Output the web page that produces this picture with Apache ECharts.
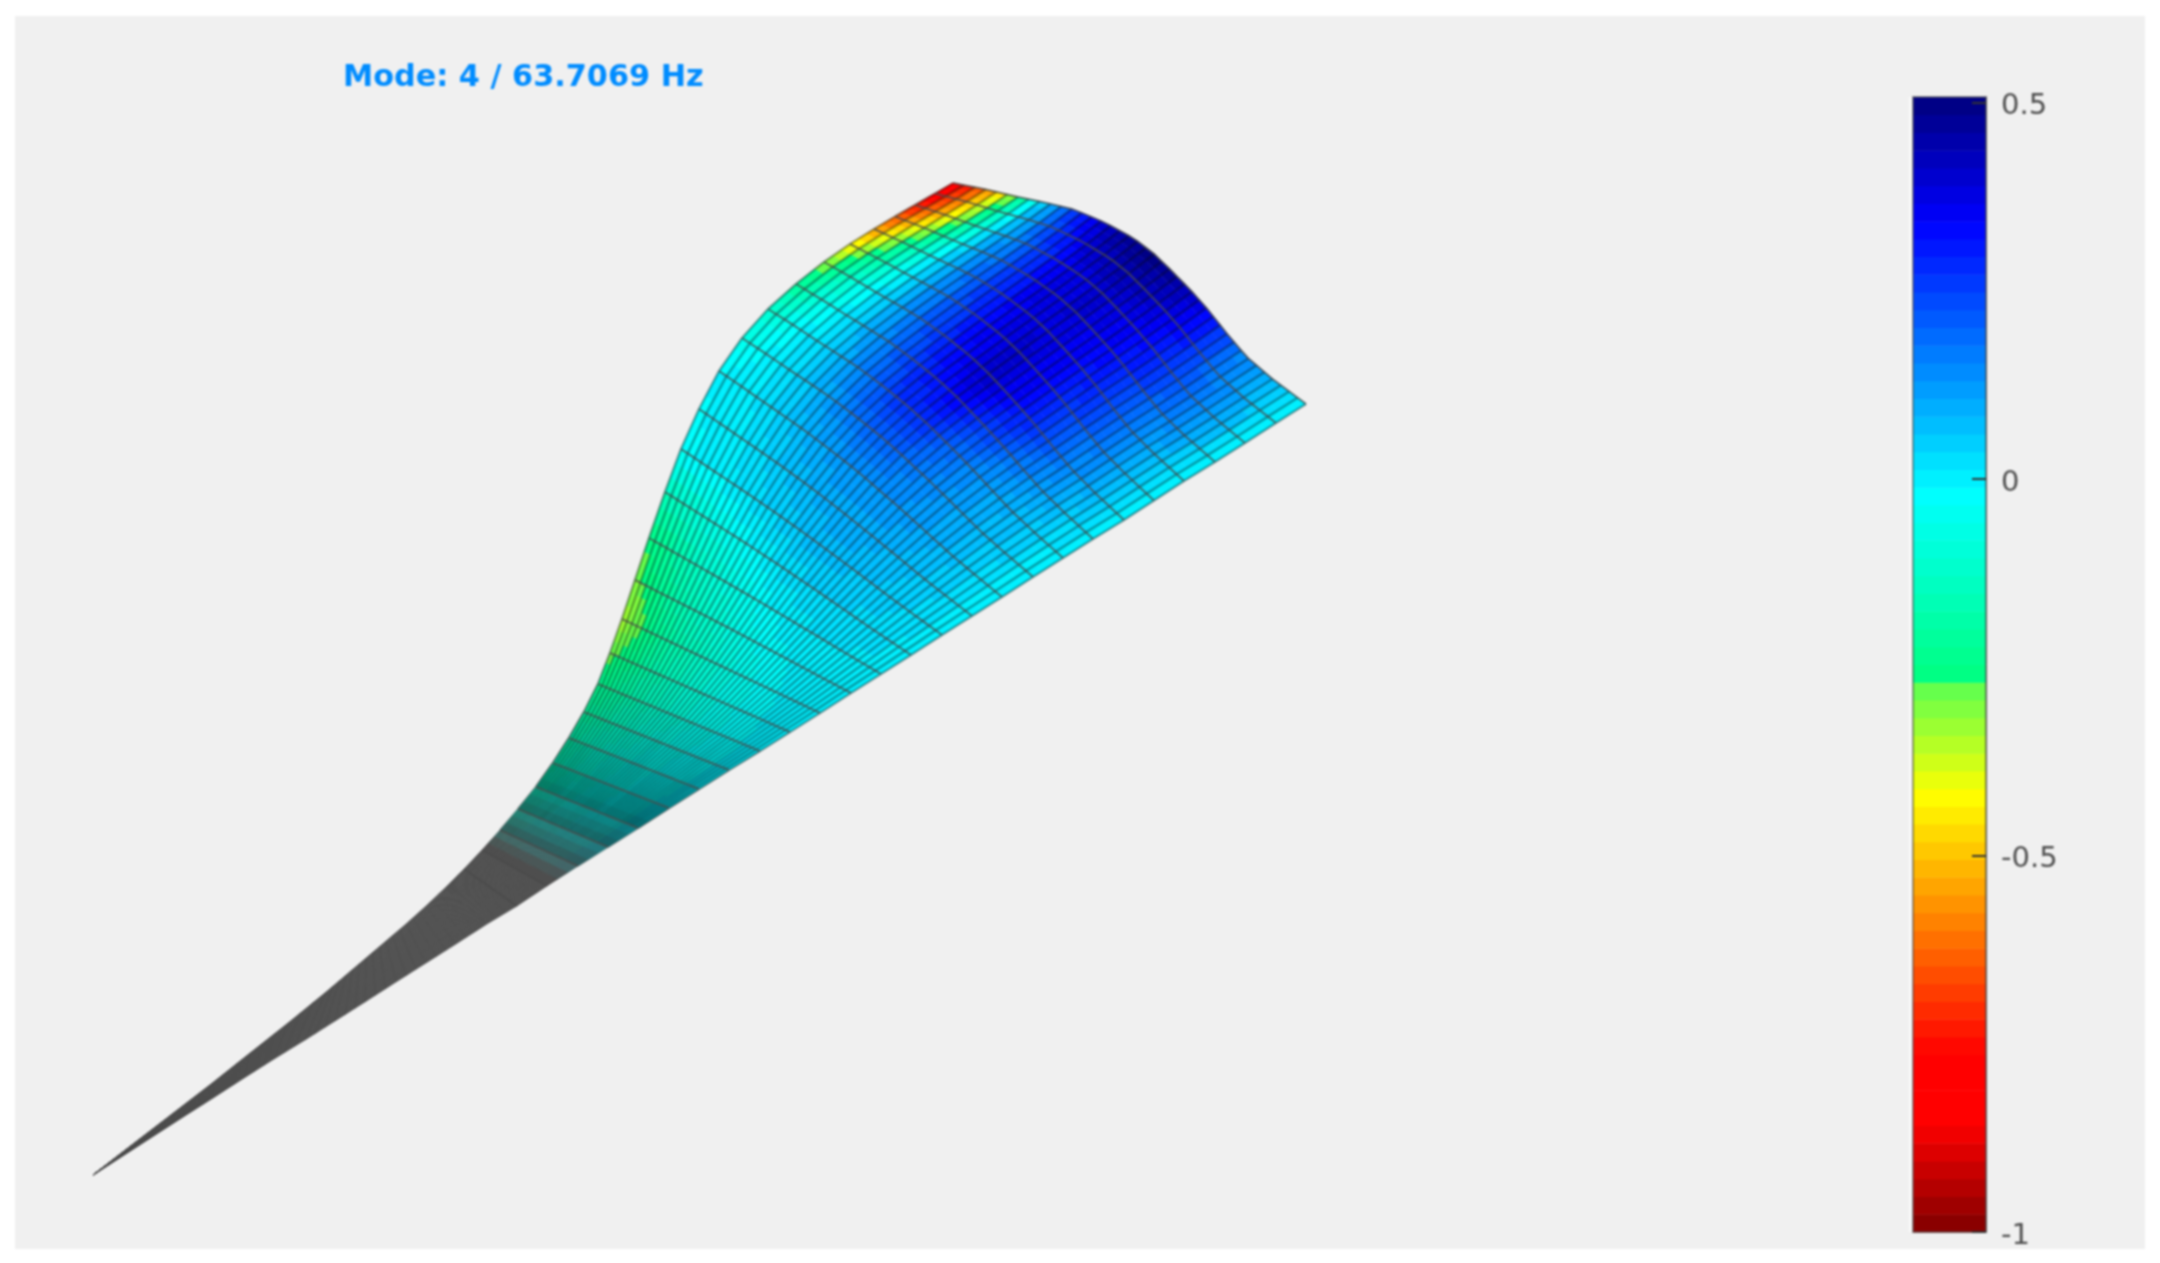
<!DOCTYPE html>
<html><head><meta charset="utf-8">
<style>html,body{margin:0;padding:0;background:#fff}#c{width:2160px;height:1263px;filter:blur(0.8px)}</style>
<script src="https://cdn.jsdelivr.net/npm/echarts@6/dist/echarts.min.js"></script>
</head><body><div id="c"></div>
<script>
const titleText = 'Mode: 4 / 63.7069 Hz';
const colorbarTicks = [-1, -0.5, 0, 0.5];
const colorbarMin = -1, colorbarMax = 0.507, colorbarBands = 64;
const colorStopValues = [-1, -0.855, -0.763, -0.419, -0.2661, -0.266, -0.02, 0.34, 0.507];
const colorStopRGB = [[128,0,0],[255,0,0],[255,0,0],[255,255,0],[85,255,85],[0,255,128],[0,255,255],[0,0,255],[0,0,125]];

// Mesh stations: far edge (0) to root tip (39)
const upperX = [953,935,915,895,874,850,824,796,768,742,719,699,681,665,649,635,622,610,598,584,569,553,536,518,500,482,464,445,426,406,386,366,346,326,288,250,211,172,133,93];
const upperY = [183,193.5,205,216.5,229,244,262,284,309,338,371,409,449,492,538,580,619,653,684,712,738,763,787,809,830,850,869,888,906,924,941,958,975,992,1023,1053,1084,1114,1144,1175];
const lowerX = [1306,1276,1245,1215,1184,1154,1124,1093,1063,1033,1002,972,942,911,881,851,820,790,760,729,699,669,638,608,578,547,517,487,456,426,396,365,335,305,274,244,213,183,138,93];
const lowerY = [404,423,443,462,481,500.5,520,539,558,577,597,616,635,655,674,693,713,732,751,770,789,808,828,847,866,886,906,924,944,963,982,1002,1021,1040,1059,1078,1098,1117,1146,1175];
const stationBow = [49,44,40,36,32,28,24,20,16,12,8,5,3,2,1,1,0,0,0,0,0,0,0,0,0,0,0,0,0,0,0,0,0,0,0,0,0,0,0,0];
const bowT = [0,0.08,0.15,0.22,0.28,0.36,0.44,0.5,0.55,0.62,0.68,0.75,0.82,0.9,1];
const bowShape = [0,0.26,0.46,0.68,0.85,0.96,1,0.95,0.86,0.72,0.57,0.36,0.17,0.07,0];

// Modal value read at stations (readK) and across-span fractions (readT)
const readK = [0,2,4,6,8,10,12,14,16,18,20,24,28,39];
const readT = [0,0.06,0.12,0.2,0.3,0.4,0.5,0.6,0.7,0.8,0.9,1];
const readValues = [
 [-0.85,-0.66,-0.42,0.02,0.30,0.46,0.50,0.45,0.33,0.16,0.08,-0.01],
 [-0.78,-0.55,-0.25,0.06,0.24,0.37,0.40,0.36,0.30,0.20,0.12,-0.02],
 [-0.58,-0.32,-0.12,0.08,0.24,0.36,0.39,0.34,0.27,0.17,0.09,-0.01],
 [-0.33,-0.15,-0.05,0.08,0.22,0.33,0.41,0.34,0.25,0.16,0.08,-0.01],
 [-0.12,-0.04,0.00,0.06,0.17,0.27,0.27,0.19,0.13,0.09,0.05,-0.01],
 [-0.01,0.00,0.01,0.04,0.09,0.12,0.13,0.13,0.11,0.08,0.04,-0.01],
 [-0.02,-0.01,-0.01,0.01,0.03,0.05,0.07,0.07,0.06,0.05,0.03,-0.01],
 [-0.26,-0.22,-0.18,-0.13,-0.09,-0.05,-0.02,0.00,0.01,0.01,0.01,0.00],
 [-0.34,-0.30,-0.26,-0.20,-0.16,-0.12,-0.08,-0.05,-0.03,-0.01,0.00,0.00],
 [-0.24,-0.22,-0.20,-0.17,-0.14,-0.11,-0.09,-0.06,-0.04,-0.02,-0.01,0.00],
 [-0.17,-0.15,-0.13,-0.11,-0.09,-0.07,-0.05,-0.04,-0.03,-0.02,-0.01,0.00],
 [-0.08,-0.07,-0.06,-0.05,-0.04,-0.03,-0.03,-0.02,-0.02,-0.01,-0.01,0.00],
 [-0.06,-0.06,-0.05,-0.05,-0.04,-0.03,-0.03,-0.02,-0.02,-0.02,-0.01,-0.01],
 [-0.05,-0.05,-0.05,-0.05,-0.04,-0.04,-0.03,-0.03,-0.02,-0.02,-0.01,-0.01]
];

const laneCount = 40, shadeSteps = 3, lastDrawnStation = 26;
const meshSolidSpacing = 1.95, meshOpenSpacing = 2.9, meshRGB = [77,77,77];
const laneWidth = 2.6, laneDarkOpen = 0.34, laneDarkCrowded = 0.55;

function clamp01(x){return Math.max(0,Math.min(1,x));}
function lerp(a,b,f){return a+(b-a)*f;}
function bracket(arr,x){let i=0;while(i<arr.length-2&&x>arr[i+1])i++;const f=(x-arr[i])/(arr[i+1]-arr[i]);return [i,clamp01(f)];}
function bow(t){const [i,f]=bracket(bowT,t);return lerp(bowShape[i],bowShape[i+1],f);}
function station(k,t){
  const ux=upperX[k],uy=upperY[k],lx=lowerX[k],ly=lowerY[k];
  const dx=lx-ux,dy=ly-uy,len=Math.hypot(dx,dy)||1,b=stationBow[k]*bow(t);
  return [lerp(ux,lx,t)+dy/len*b, lerp(uy,ly,t)-dx/len*b];
}
function node(kf,t){
  const k=Math.min(Math.floor(kf),upperX.length-2),f=kf-k;
  const a=station(k,t),c=station(k+1,t);
  return [lerp(a[0],c[0],f),lerp(a[1],c[1],f)];
}
function valueAt(kf,t){
  const [i,fi]=bracket(readK,kf),[j,fj]=bracket(readT,t);
  return lerp(lerp(readValues[i][j],readValues[i][j+1],fj),lerp(readValues[i+1][j],readValues[i+1][j+1],fj),fi);
}
function stopRGB(v){
  const [i,f]=bracket(colorStopValues,v),a=colorStopRGB[i],b=colorStopRGB[i+1];
  return [0,1,2].map(n=>lerp(a[n],b[n],f));
}
function css(c){return 'rgb('+c.map(Math.round).join(',')+')';}
const bandSize=(colorbarMax-colorbarMin)/colorbarBands;
function bandRGB(v){
  const n=Math.max(0,Math.min(colorbarBands-1,Math.floor((v-colorbarMin)/bandSize)));
  return stopRGB(colorbarMin+(n+0.5)*bandSize);
}
function laneSpacing(kf){
  const a=node(kf,0),b=node(kf,1);
  return Math.hypot(b[0]-a[0],b[1]-a[1])/laneCount;
}
// Where the mesh lines crowd together the surface prints as the solid line colour
function meshSolid(kf){return clamp01((meshOpenSpacing-laneSpacing(kf))/(meshOpenSpacing-meshSolidSpacing));}
function meshTint(c,kf){const m=meshSolid(kf);return c.map((x,i)=>lerp(x,meshRGB[i],m));}
function laneAlpha(kf){
  const sp=laneSpacing(kf),layers=laneWidth/sp;
  const dark=lerp(laneDarkCrowded,laneDarkOpen,clamp01((sp-2.5)/2.5));
  const a=layers<=1?dark:1-Math.pow(1-dark,1/layers);
  return a*(1-meshSolid(kf));
}

const cellData=[];
for(let k=0;k<upperX.length-1;k++)for(let s=0;s<shadeSteps;s++)for(let l=0;l<laneCount;l++)cellData.push([k+s/shadeSteps,l/laneCount]);
const laneData=[];for(let l=0;l<=laneCount;l++)for(let k=0;k<lastDrawnStation;k++)laneData.push([k,l/laneCount]);
const chordData=[];for(let k=0;k<=lastDrawnStation;k++)chordData.push([k,0]);
const bandData=[];for(let n=0;n<colorbarBands;n++)bandData.push([0,n]);

const chart=echarts.init(document.getElementById('c'),null,{renderer:'canvas'});
chart.setOption({
  animation:false,
  backgroundColor:'#ffffff',
  title:{text:titleText,left:338,top:58,textStyle:{fontFamily:'DejaVu Sans',fontWeight:'bold',fontSize:30.3,color:'#008cff'}},
  grid:[
    {left:15,top:16,width:2130,height:1233,show:true,backgroundColor:'#f0f0f0',borderWidth:0},
    {left:1913,top:97,width:73,height:1135,show:false}
  ],
  xAxis:[
    {gridIndex:0,type:'value',min:15,max:2145,show:false},
    {gridIndex:1,type:'value',min:0,max:1,show:false}
  ],
  yAxis:[
    {gridIndex:0,type:'value',min:16,max:1249,inverse:true,show:false},
    {gridIndex:1,type:'value',min:colorbarMin,max:colorbarMax,position:'right',z:10,
      splitLine:{show:false},
      axisLine:{show:true,onZero:false,lineStyle:{color:'#5a5a5a',width:1}},
      axisTick:{show:true,inside:true,length:14,lineStyle:{color:'#333333',width:2},customValues:colorbarTicks},
      axisLabel:{show:true,margin:15,verticalAlign:'top',lineHeight:9,fontFamily:'DejaVu Sans',fontSize:29,color:'#4d4d4d',customValues:colorbarTicks,formatter:v=>String(v)}}
  ],
  series:[
    {type:'custom',xAxisIndex:0,yAxisIndex:0,silent:true,clip:false,progressive:0,data:cellData,
      renderItem:(p,api)=>{
        const kf=api.value(0),t=api.value(1),dk=1/shadeSteps,dt=1/laneCount;
        const pts=[node(kf,t),node(kf+dk,t),node(kf+dk,t+dt),node(kf,t+dt)].map(q=>api.coord(q));
        const c=css(meshTint(bandRGB(valueAt(kf+dk/2,t+dt/2)),kf+dk/2));
        return {type:'polygon',shape:{points:pts},style:{fill:c,stroke:c,lineWidth:0.6}};
      }},
    {type:'custom',xAxisIndex:0,yAxisIndex:0,silent:true,clip:false,progressive:0,data:laneData,
      renderItem:(p,api)=>{
        const k=api.value(0),t=api.value(1);
        const a=api.coord(station(k,t)),b=api.coord(station(k+1,t));
        return {type:'line',shape:{x1:a[0],y1:a[1],x2:b[0],y2:b[1]},style:{stroke:'rgba(0,0,0,'+laneAlpha(k+0.5).toFixed(3)+')',lineWidth:laneWidth}};
      }},
    {type:'custom',xAxisIndex:0,yAxisIndex:0,silent:true,clip:false,progressive:0,data:chordData,
      renderItem:(p,api)=>{
        const k=api.value(0),pts=[];
        for(let l=0;l<=laneCount;l++)pts.push(api.coord(station(k,l/laneCount)));
        return {type:'polyline',shape:{points:pts},style:{fill:null,stroke:'rgba(74,74,74,0.75)',lineWidth:2}};
      }},
    {type:'custom',xAxisIndex:1,yAxisIndex:1,silent:true,clip:false,progressive:0,data:bandData,
      renderItem:(p,api)=>{
        const n=api.value(1),lo=colorbarMin+n*bandSize,hi=lo+bandSize;
        const a=api.coord([0,hi]),b=api.coord([1,lo]);
        const c=css(stopRGB(lo+bandSize/2));
        return {type:'rect',shape:{x:a[0],y:a[1],width:b[0]-a[0],height:b[1]-a[1]+0.5},style:{fill:c}};
      }},
    {type:'custom',xAxisIndex:1,yAxisIndex:1,silent:true,clip:false,data:[[0,colorbarMax]],z:5,
      renderItem:(p,api)=>{
        const a=api.coord([0,colorbarMax]),b=api.coord([1,colorbarMin]);
        return {type:'group',children:[
          {type:'rect',shape:{x:a[0],y:a[1],width:b[0]-a[0],height:b[1]-a[1]},style:{fill:null,stroke:'rgba(70,70,70,0.55)',lineWidth:2}},
          {type:'line',shape:{x1:a[0]-2.5,y1:a[1],x2:a[0]-2.5,y2:b[1]},style:{stroke:'rgba(255,255,255,0.75)',lineWidth:2.5}}
        ]};
      }}
  ]
});
</script></body></html>
